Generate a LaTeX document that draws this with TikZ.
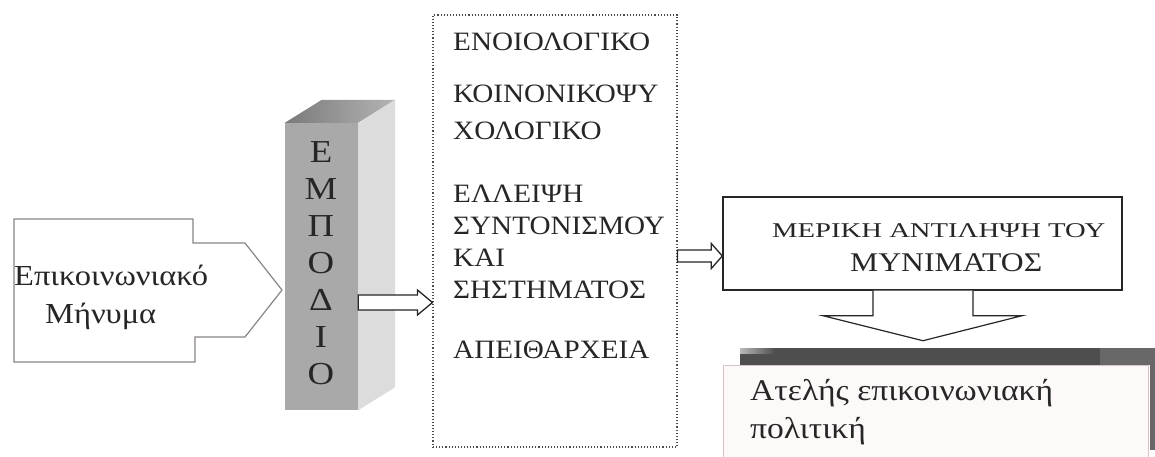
\documentclass[tikz,border=0pt]{standalone}
\usepackage{fontspec}
\setmainfont{Liberation Serif}[FakeStretch=1.12]
\newfontfamily\causefont{Liberation Serif}[FakeStretch=1.1]
\newfontfamily\pillarfont{Liberation Serif}[FakeStretch=1.15]
\usetikzlibrary{calc}
\definecolor{pfront}{HTML}{A9A9A9}
\definecolor{pside}{HTML}{DCDCDC}
\definecolor{ptopL}{HTML}{7A7A7A}
\definecolor{ptopR}{HTML}{B4B4B4}
\definecolor{barc}{HTML}{4E4E4E}
\definecolor{barr}{HTML}{686868}
\definecolor{polfill}{HTML}{FDF9F9}
\definecolor{polline}{HTML}{D8C4C6}
\definecolor{msgline}{HTML}{8A8486}
\tikzset{
  txt/.style={inner sep=0pt, anchor=base west, text=black!85},
  causetxt/.style={txt, font=\causefont\fontsize{26.5}{30}\selectfont},
  pillartxt/.style={inner sep=0pt, anchor=base, text=black!85, font=\pillarfont\fontsize{32}{36}\selectfont},
  msgtxt/.style={txt, font=\fontsize{29}{34}\selectfont},
  poltxt/.style={txt, font=\fontsize{30}{34}\selectfont},
  hollow/.style={draw=black!85, fill=white, line width=1.3pt, line join=miter},
  boxstyle/.style={rectangle, inner sep=0pt},
}
\begin{document}
\begin{tikzpicture}[x=1pt,y=-1pt]
\useasboundingbox (0,0) rectangle (1155,456);

% left message shape
\coordinate (msgtip) at (282,290);
\draw[draw=msgline, line width=1.2pt, fill=white]
  (14,219) -- (193,219) -- (193,243) -- (245,243) -- (msgtip)
  -- (245,337) -- (195,337) -- (195,362) -- (14,362) -- cycle;
\node[msgtxt] (msg1) at (14,285) {Επικοινωνιακό};
\node[msgtxt] (msg2) at (45,323) {Μήνυμα};

% pillar
\node[boxstyle, minimum width=73pt, minimum height=287pt, fill=pfront] (pillar) at (321.5,266.5) {};
\shade[left color=ptopL, right color=ptopR]
  (pillar.north west) -- (pillar.north east) -- ($(pillar.north east)+(37,-23)$) -- ($(pillar.north west)+(37,-23)$) -- cycle;
\fill[pside]
  (pillar.north east) -- ($(pillar.north east)+(37,-23)$) -- ($(pillar.south east)+(37,-23)$) -- (pillar.south east) -- cycle;
\foreach \L [count=\i from 0] in {Ε,Μ,Π,Ο,Δ,Ι,Ο}{
  \node[pillartxt] (p\i) at (321,162+37*\i) {\L};
}

% middle box of causes
\node[boxstyle, draw=black!70, dotted, line width=1.1pt, minimum width=244pt, minimum height=432pt] (causes) at (555,231) {};
\node[causetxt] (c1) at (453,50) {ΕΝΟΙΟΛΟΓΙΚΟ};
\node[causetxt] (c2) at (453,102) {ΚΟΙΝΟΝΙΚΟΨΥ};
\node[causetxt] (c3) at (453,139) {ΧΟΛΟΓΙΚΟ};
\node[causetxt] (c4) at (453,202) {ΕΛΛΕΙΨΗ};
\node[causetxt] (c5) at (453,234) {ΣΥΝΤΟΝΙΣΜΟΥ};
\node[causetxt] (c6) at (453,266) {ΚΑΙ};
\node[causetxt] (c7) at (453,298) {ΣΗΣΤΗΜΑΤΟΣ};
\node[causetxt] (c8) at (453,358) {ΑΠΕΙΘΑΡΧΕΙΑ};

% result box
\node[boxstyle, draw=black!85, line width=1.4pt, minimum width=399pt, minimum height=93pt] (result) at (922.5,243.5) {};
\node[txt, font=\fontsize{21}{24}\selectfont] (r1) at (772,237) {\resizebox{333pt}{\height}{ΜΕΡΙΚΗ ΑΝΤΙΛΗΨΗ ΤΟΥ}};
\node[txt, font=\fontsize{27}{30}\selectfont] (r2) at (850,271) {\resizebox{192pt}{\height}{ΜΥΝΙΜΑΤΟΣ}};

% bottom policy box
\fill[barc] (740,348) rectangle (1100,365);
\shade[left color=barc!40, right color=barc] (740,348) rectangle (775,353);
\fill[barr] (1100,348) rectangle (1155,365);
\fill[barr] (1150,365) rectangle (1155,450);
\node[boxstyle, draw=polline, fill=polfill, line width=0.8pt, minimum width=425pt, minimum height=96pt, anchor=north west] (policy) at (723,365) {};
\node[poltxt] (pol1) at (750,400) {Ατελής επικοινωνιακή};
\node[poltxt] (pol2) at (750,438) {πολιτική};

% arrow pillar -> causes
\coordinate (ya) at (0,302.5);
\draw[hollow] ($(pillar.east |- ya)+(0,-7.5)$) -- ($(causes.west |- ya)+(-15,-7.5)$)
  -- ($(causes.west |- ya)+(-15,-12.5)$) -- (causes.west |- ya)
  -- ($(causes.west |- ya)+(-15,12.5)$) -- ($(causes.west |- ya)+(-15,7.5)$)
  -- ($(pillar.east |- ya)+(0,7.5)$) -- cycle;

% arrow causes -> result
\coordinate (yb) at (0,256);
\draw[hollow] ($(causes.east |- yb)+(0,-6)$) -- ($(result.west |- yb)+(-11,-6)$)
  -- ($(result.west |- yb)+(-11,-12.5)$) -- (result.west |- yb)
  -- ($(result.west |- yb)+(-11,12.5)$) -- ($(result.west |- yb)+(-11,6)$)
  -- ($(causes.east |- yb)+(0,6)$) -- cycle;

% down arrow result -> policy
\coordinate (tipd) at ($(result.south)+(0.5,50)$);
\draw[hollow, line width=1.2pt] ($(result.south)+(-49.5,0)$) -- ($(result.south)+(-49.5,25)$)
  -- ($(result.south)+(-99.5,25)$) -- (tipd)
  -- ($(result.south)+(99.5,25)$) -- ($(result.south)+(50.5,25)$)
  -- ($(result.south)+(50.5,0)$);
\end{tikzpicture}
\end{document}
